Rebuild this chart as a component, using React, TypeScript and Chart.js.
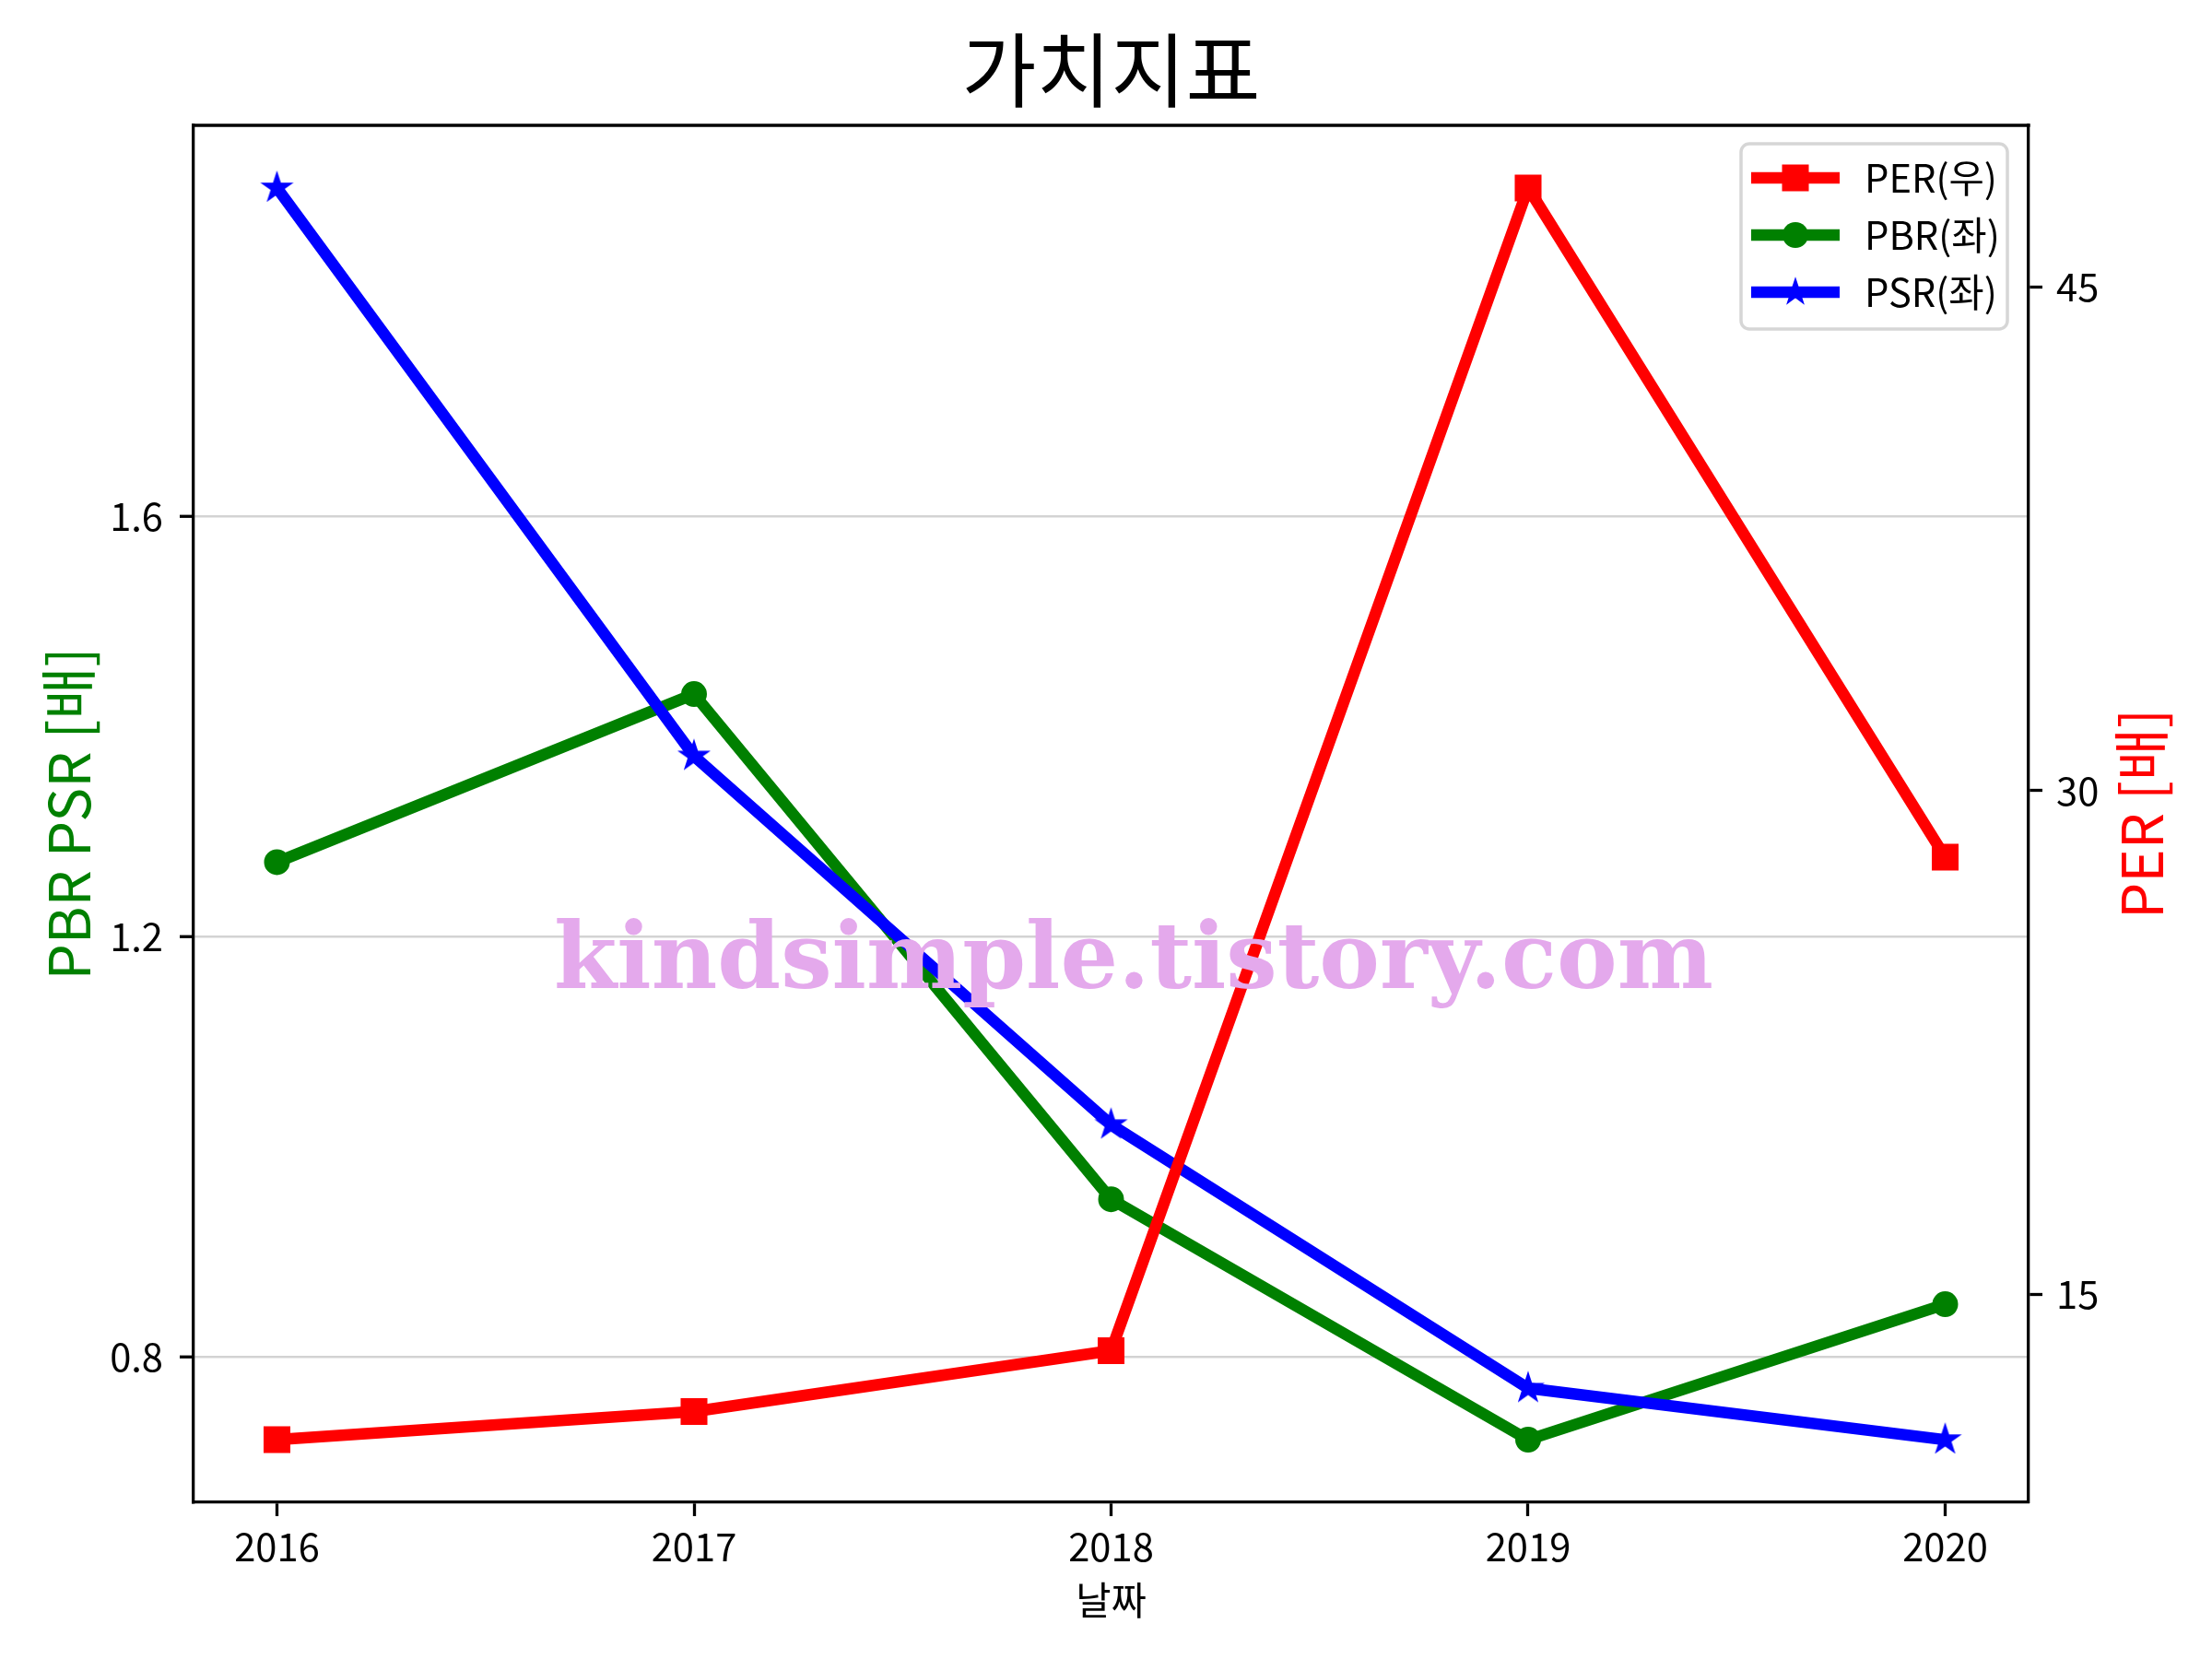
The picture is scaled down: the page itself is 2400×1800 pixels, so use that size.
import React, { useEffect, useRef } from 'react';
import { Chart, registerables } from 'chart.js';

Chart.register(...registerables);

const years = [2016, 2017, 2018, 2019, 2020];
const pbrValues = [1.271, 1.431, 0.95, 0.721, 0.85];
const psrValues = [1.913, 1.372, 1.021, 0.77, 0.721];
const perValues = [10.67, 11.51, 13.32, 47.95, 28.02];
const leftTickValues = [0.8, 1.2, 1.6];
const rightTickValues = [15, 30, 45];
const chartTitle = '가치지표';
const xAxisTitle = '날짜';
const leftAxisTitle = 'PBR PSR [배]';
const rightAxisTitle = 'PER [배]';
const perLabel = 'PER(우)';
const pbrLabel = 'PBR(좌)';
const psrLabel = 'PSR(좌)';
const watermarkText = 'kindsimple.tistory.com';

const FONT = "'Noto Sans CJK KR', 'Noto Sans', sans-serif";
const RED = '#ff0000';
const GREEN = '#008000';
const BLUE = '#0000ff';
const LINE_W = 12.5;

function padRange(vals: number[]) {
  const mn = Math.min(...vals);
  const mx = Math.max(...vals);
  const m = (mx - mn) * 0.05;
  return { min: mn - m, max: mx + m };
}

function starPath(ctx: CanvasRenderingContext2D, cx: number, cy: number, R: number) {
  const r = R * 0.381966;
  ctx.beginPath();
  for (let i = 0; i < 10; i++) {
    const rad = i % 2 === 0 ? R : r;
    const a = -Math.PI / 2 + (i * Math.PI) / 5;
    const px = cx + rad * Math.cos(a);
    const py = cy + rad * Math.sin(a);
    if (i === 0) ctx.moveTo(px, py);
    else ctx.lineTo(px, py);
  }
  ctx.closePath();
}

function makeStar(color: string) {
  const c = document.createElement('canvas');
  c.width = 40;
  c.height = 40;
  const g = c.getContext('2d')!;
  starPath(g, 20, 20, 12.5);
  g.fillStyle = color;
  g.fill();
  g.strokeStyle = color;
  g.lineWidth = 4;
  g.lineJoin = 'miter';
  g.stroke();
  return c;
}

function drawMarker(ctx: CanvasRenderingContext2D, kind: string, x: number, y: number, color: string) {
  ctx.save();
  ctx.fillStyle = color;
  ctx.strokeStyle = color;
  if (kind === 'rect') {
    ctx.fillRect(x - 14.5, y - 14.5, 29, 29);
  } else if (kind === 'circle') {
    ctx.beginPath();
    ctx.arc(x, y, 14, 0, Math.PI * 2);
    ctx.fill();
  } else {
    starPath(ctx, x, y, 12);
    ctx.fill();
    ctx.lineWidth = 3;
    ctx.stroke();
  }
  ctx.restore();
}

const decorPlugin = {
  id: 'decor',
  afterDraw(chart: any) {
    const { ctx, chartArea: ca } = chart;
    ctx.save();
    // top spine
    ctx.strokeStyle = '#000';
    ctx.lineWidth = 3.3;
    ctx.beginPath();
    ctx.moveTo(ca.left - 1.65, ca.top);
    ctx.lineTo(ca.right + 1.65, ca.top);
    ctx.stroke();

    const cx = (ca.left + ca.right) / 2;
    const cy = (ca.top + ca.bottom) / 2;

    // title
    ctx.fillStyle = '#000';
    ctx.textAlign = 'center';
    ctx.textBaseline = 'middle';
    ctx.font = `88px ${FONT}`;
    ctx.fillText(chartTitle, cx, 76);

    // x axis title
    ctx.font = `41.7px ${FONT}`;
    ctx.fillText(xAxisTitle, cx, 1736);

    // left axis title
    ctx.save();
    ctx.translate(74, cy);
    ctx.rotate(-Math.PI / 2);
    ctx.fillStyle = GREEN;
    ctx.font = `62px ${FONT}`;
    ctx.fillText(leftAxisTitle, 0, 0);
    ctx.restore();

    // right axis title
    ctx.save();
    ctx.translate(2323, cy);
    ctx.rotate(-Math.PI / 2);
    ctx.fillStyle = RED;
    ctx.font = `62px ${FONT}`;
    ctx.fillText(rightAxisTitle, 0, 0);
    ctx.restore();

    // legend
    const bx = 1889, by = 156, bw = 289, bh = 201, br = 9;
    ctx.beginPath();
    ctx.moveTo(bx + br, by);
    ctx.lineTo(bx + bw - br, by);
    ctx.arcTo(bx + bw, by, bx + bw, by + br, br);
    ctx.lineTo(bx + bw, by + bh - br);
    ctx.arcTo(bx + bw, by + bh, bx + bw - br, by + bh, br);
    ctx.lineTo(bx + br, by + bh);
    ctx.arcTo(bx, by + bh, bx, by + bh - br, br);
    ctx.lineTo(bx, by + br);
    ctx.arcTo(bx, by, bx + br, by, br);
    ctx.closePath();
    ctx.fillStyle = 'rgba(255,255,255,0.8)';
    ctx.fill();
    ctx.strokeStyle = '#d6d6d6';
    ctx.lineWidth = 3.5;
    ctx.stroke();

    const rows = [
      { label: perLabel, color: RED, kind: 'rect' },
      { label: pbrLabel, color: GREEN, kind: 'circle' },
      { label: psrLabel, color: BLUE, kind: 'star' },
    ];
    rows.forEach((r, i) => {
      const y = 193 + i * 62;
      ctx.strokeStyle = r.color;
      ctx.lineWidth = LINE_W;
      ctx.lineCap = 'butt';
      ctx.beginPath();
      ctx.moveTo(1900, y);
      ctx.lineTo(1996, y);
      ctx.stroke();
      drawMarker(ctx, r.kind, 1948, y, r.color);
      ctx.fillStyle = '#000';
      ctx.textAlign = 'left';
      ctx.textBaseline = 'middle';
      ctx.font = `41.7px ${FONT}`;
      ctx.fillText(r.label, 2023, y);
    });

    // watermark
    ctx.font = `bold 100px 'DejaVu Serif', serif`;
    const w100 = ctx.measureText(watermarkText).width;
    const size = (100 * 1258) / w100;
    ctx.font = `bold ${size}px 'DejaVu Serif', serif`;
    ctx.fillStyle = 'rgb(228,169,236)';
    ctx.textAlign = 'center';
    ctx.textBaseline = 'alphabetic';
    ctx.fillText(watermarkText, 1230, 1072);

    ctx.restore();
  },
};

export default function App() {
  const ref = useRef<HTMLCanvasElement | null>(null);

  useEffect(() => {
    const canvas = ref.current;
    if (!canvas) return;
    const star = makeStar(BLUE);
    const xr = padRange(years);
    const lr = padRange([...pbrValues, ...psrValues]);
    const rr = padRange(perValues);
    const toPts = (vals: number[]) => years.map((yr, i) => ({ x: yr, y: vals[i] }));
    const tickFont = { family: FONT, size: 41.7 };

    const chart = new Chart(canvas, {
      type: 'line',
      data: {
        datasets: [
          {
            label: pbrLabel,
            data: toPts(pbrValues),
            yAxisID: 'y',
            borderColor: GREEN,
            backgroundColor: GREEN,
            borderWidth: LINE_W,
            pointStyle: 'circle',
            pointRadius: 12.5,
            pointBorderWidth: 3,
            pointBackgroundColor: GREEN,
            pointBorderColor: GREEN,
            borderJoinStyle: 'round',
            tension: 0,
            order: 3,
          },
          {
            label: psrLabel,
            data: toPts(psrValues),
            yAxisID: 'y',
            borderColor: BLUE,
            backgroundColor: BLUE,
            borderWidth: LINE_W,
            pointStyle: star as any,
            pointRadius: 14,
            borderJoinStyle: 'round',
            tension: 0,
            order: 2,
          },
          {
            label: perLabel,
            data: toPts(perValues),
            yAxisID: 'y2',
            borderColor: RED,
            backgroundColor: RED,
            borderWidth: LINE_W,
            pointStyle: 'rect',
            pointRadius: 17.7,
            pointBorderWidth: 4,
            pointBackgroundColor: RED,
            pointBorderColor: RED,
            borderJoinStyle: 'round',
            tension: 0,
            order: 1,
          },
        ],
      },
      options: {
        animation: false,
        responsive: false,
        devicePixelRatio: 1,
        events: [],
        layout: { padding: { top: 136, left: 0, right: 0, bottom: 0 } },
        plugins: {
          legend: { display: false },
          title: { display: false },
          tooltip: { enabled: false },
        },
        scales: {
          x: {
            type: 'linear',
            position: 'bottom',
            min: xr.min,
            max: xr.max,
            afterBuildTicks: (s: any) => {
              s.ticks = years.map((v) => ({ value: v }));
            },
            afterFit: (s: any) => {
              s.height = 170;
            },
            ticks: {
              callback: (v: any) => String(v),
              font: tickFont,
              color: '#000',
              padding: 8,
              maxRotation: 0,
              autoSkip: false,
            },
            grid: {
              drawOnChartArea: false,
              drawTicks: true,
              tickLength: 15,
              tickWidth: 3.3,
              tickColor: '#000',
            },
            border: { display: true, color: '#000', width: 3.3 },
          },
          y: {
            type: 'linear',
            position: 'left',
            min: lr.min,
            max: lr.max,
            afterBuildTicks: (s: any) => {
              s.ticks = leftTickValues.map((v) => ({ value: v }));
            },
            afterFit: (s: any) => {
              s.width = 210;
            },
            ticks: {
              callback: (v: any) => Number(v).toFixed(1),
              font: tickFont,
              color: '#000',
              padding: 18,
              autoSkip: false,
            },
            grid: {
              drawOnChartArea: true,
              color: '#d3d3d3',
              lineWidth: 2.5,
              drawTicks: true,
              tickLength: 15,
              tickWidth: 3.3,
              tickColor: '#000',
            },
            border: { display: true, color: '#000', width: 3.3 },
          },
          y2: {
            type: 'linear',
            position: 'right',
            min: rr.min,
            max: rr.max,
            afterBuildTicks: (s: any) => {
              s.ticks = rightTickValues.map((v) => ({ value: v }));
            },
            afterFit: (s: any) => {
              s.width = 199;
            },
            ticks: {
              callback: (v: any) => String(v),
              font: tickFont,
              color: '#000',
              padding: 15,
              autoSkip: false,
            },
            grid: {
              drawOnChartArea: false,
              drawTicks: true,
              tickLength: 15,
              tickWidth: 3.3,
              tickColor: '#000',
            },
            border: { display: true, color: '#000', width: 3.3 },
          },
        },
      } as any,
      plugins: [decorPlugin],
    });
    return () => chart.destroy();
  }, []);

  return (
    <div style={{ position: 'absolute', left: 0, top: 0, width: 2400, height: 1800, background: '#fff' }}>
      <canvas ref={ref} width={2400} height={1800} style={{ width: 2400, height: 1800, display: 'block' }} />
    </div>
  );
}
